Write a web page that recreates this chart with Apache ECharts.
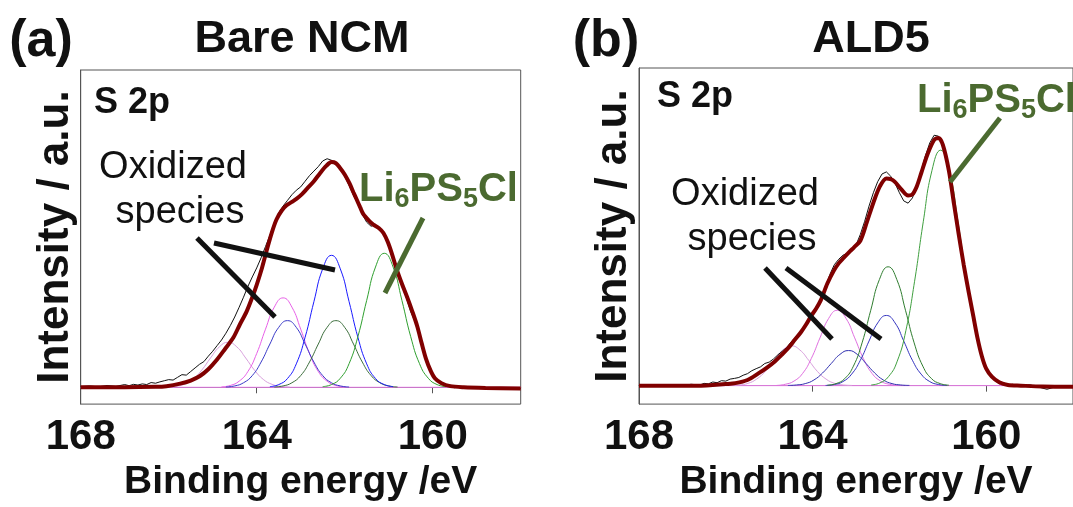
<!DOCTYPE html>
<html lang="en">
<head>
    <meta charset="UTF-8">
    <title>S 2p XPS</title>
    <script src="https://cdn.jsdelivr.net/npm/echarts@6/dist/echarts.min.js"></script>
    <style>
        html, body { margin: 0; padding: 0; background: #fff; }
    </style>
</head>
<body>
    <div id="main" style="width: 1073px;height:507px;"></div>

    <script type="text/javascript">
        // tick labels on binding energy axis
        var tickValues = [168, 164, 160];

        // ---- (a) Bare NCM : [binding energy, intensity] ----
        var rawA = [[168.0,0.3],[167.8,0.6],[167.6,0.2],[167.4,0.8],[167.2,0.4],[167.0,1.2],[166.9,0.7],[166.8,1.3],[166.7,1.0],[166.6,1.5],[166.5,1.2],[166.4,2.1],[166.3,1.8],[166.2,2.4],[166.1,2.9],[166.0,3.4],[165.9,3.2],[165.8,4.4],[165.7,5.6],[165.6,5.4],[165.5,7.0],[165.4,8.6],[165.3,10.2],[165.2,11.4],[165.1,13.8],[165.0,16.0],[164.9,18.5],[164.8,21.0],[164.7,24.0],[164.6,27.4],[164.5,31.2],[164.4,35.5],[164.3,40.0],[164.2,44.8],[164.1,49.0],[164.0,53.0],[163.9,57.5],[163.8,62.5],[163.7,67.5],[163.6,73.0],[163.5,77.5],[163.4,80.5],[163.3,83.0],[163.2,85.5],[163.1,87.5],[163.0,89.0],[162.9,91.5],[162.8,94.0],[162.7,96.0],[162.6,98.0],[162.5,100.5],[162.4,101.5],[162.3,100.8],[162.2,99.8],[162.1,97.2],[162.0,93.8],[161.9,89.6],[161.8,85.2],[161.7,81.4],[161.6,76.8],[161.5,73.3],[161.4,71.5],[161.3,72.3],[161.2,70.2],[161.1,68.6],[161.0,63.8],[160.9,57.9],[160.8,51.8],[160.7,45.6],[160.6,39.8],[160.5,33.5],[160.4,29.2],[160.3,23.4],[160.2,15.8],[160.1,9.7],[160.0,6.1],[159.9,3.0],[159.8,1.6],[159.7,0.4],[159.6,0.9],[159.5,-0.2],[159.4,0.3],[159.2,-0.4],[159.0,0.2],[158.8,-0.5],[158.6,-0.2],[158.4,-0.8],[158.2,-0.4],[158.0,-0.6]];

        var envA = [[168.0,0],[167.0,0],[166.3,0.2],[166.05,0.5],[165.74,1.6],[165.5,3.0],[165.29,5.0],[165.1,8.0],[164.91,12.1],[164.72,17.0],[164.53,22.1],[164.38,28.0],[164.23,33.6],[164.1,40.0],[164.0,45.5],[163.88,53.0],[163.77,61.0],[163.66,68.5],[163.55,74.5],[163.43,78.5],[163.32,80.8],[163.2,82.3],[163.09,83.8],[162.97,85.8],[162.86,88.1],[162.7,91.5],[162.56,95.1],[162.42,98.3],[162.3,100.0],[162.2,99.5],[162.11,97.5],[162.0,94.5],[161.89,90.5],[161.8,86.5],[161.73,83.5],[161.65,80.0],[161.58,77.0],[161.45,74.0],[161.35,72.2],[161.22,70.6],[161.12,68.5],[161.02,64.5],[160.93,59.5],[160.82,52.5],[160.7,46.0],[160.58,40.0],[160.46,33.5],[160.35,27.0],[160.25,19.5],[160.15,12.5],[160.05,7.5],[159.95,4.0],[159.8,1.8],[159.6,0.5],[159.3,0],[158.8,-0.3],[158.0,-0.5]];

        var blueTallA = [[163.7,0.3],[163.5,1.2],[163.3,3.9],[163.1,10.4],[162.9,22.2],[162.7,38.0],[162.5,52.6],[162.3,58.6],[162.1,52.6],[161.9,38.0],[161.7,22.2],[161.5,10.4],[161.3,3.9],[161.1,1.2],[160.9,0.3]];
        var greenTallA = [[162.5,0.3],[162.3,1.2],[162.1,4.0],[161.9,10.5],[161.7,22.5],[161.5,38.6],[161.3,53.4],[161.1,59.5],[160.9,53.4],[160.7,38.6],[160.5,22.5],[160.3,10.5],[160.1,4.0],[159.9,1.2],[159.7,0.3]];
        var greenMedA = [[163.6,0.15],[163.4,0.6],[163.2,2.0],[163.0,5.2],[162.8,11.2],[162.6,19.2],[162.4,26.6],[162.2,29.6],[162.0,26.6],[161.8,19.2],[161.6,11.2],[161.4,5.2],[161.2,2.0],[161.0,0.6],[160.8,0.15]];
        var magentaA = [[164.8,0.2],[164.6,0.8],[164.4,2.7],[164.2,7.0],[164.0,15.0],[163.8,25.8],[163.6,35.6],[163.4,39.7],[163.2,35.6],[163.0,25.8],[162.8,15.0],[162.6,7.0],[162.4,2.7],[162.2,0.8],[162.0,0.2]];
        var blueMedA = [[164.7,0.15],[164.5,0.6],[164.3,2.0],[164.1,5.2],[163.9,11.2],[163.7,19.2],[163.5,26.6],[163.3,29.6],[163.1,26.6],[162.9,19.2],[162.7,11.2],[162.5,5.2],[162.3,2.0],[162.1,0.6],[161.9,0.15]];
        var plumA = [[166.05,0.1],[165.85,0.4],[165.65,1.3],[165.45,3.5],[165.25,7.6],[165.05,13.0],[164.85,17.9],[164.65,20.0],[164.45,17.9],[164.25,13.0],[164.05,7.6],[163.85,3.5],[163.65,1.3],[163.45,0.4],[163.25,0.1]];

        // ---- (b) ALD5 ----
        var rawB = [[168.0,0.2],[167.8,-0.2],[167.6,0.4],[167.4,0.0],[167.2,0.5],[167.0,0.1],[166.8,0.6],[166.6,0.3],[166.5,1.0],[166.4,0.8],[166.3,1.6],[166.2,1.3],[166.1,2.2],[166.0,2.0],[165.9,2.9],[165.8,3.2],[165.7,3.6],[165.6,4.6],[165.5,5.3],[165.4,6.6],[165.3,7.5],[165.2,8.3],[165.1,9.8],[165.0,10.4],[164.9,11.8],[164.8,13.6],[164.7,15.2],[164.6,16.8],[164.5,19.2],[164.4,21.2],[164.3,23.5],[164.2,25.6],[164.1,28.2],[164.0,31.8],[163.9,34.5],[163.8,38.6],[163.7,43.8],[163.6,49.2],[163.5,53.4],[163.4,55.8],[163.3,57.6],[163.2,58.5],[163.1,59.6],[163.0,62.1],[162.9,66.8],[162.8,72.6],[162.7,79.3],[162.6,85.2],[162.5,90.1],[162.4,93.5],[162.3,94.4],[162.2,92.5],[162.1,89.4],[162.0,85.2],[161.9,81.6],[161.8,80.6],[161.7,82.9],[161.6,88.1],[161.5,94.8],[161.4,101.6],[161.3,107.2],[161.2,110.6],[161.1,110.2],[161.0,106.4],[160.9,97.8],[160.8,86.6],[160.7,74.5],[160.6,62.3],[160.5,51.4],[160.4,40.8],[160.3,30.5],[160.2,21.3],[160.1,13.6],[160.0,7.9],[159.9,4.2],[159.8,2.3],[159.7,0.8],[159.6,1.4],[159.5,0.1],[159.4,0.6],[159.2,-0.2],[159.0,0.4],[158.8,-0.6],[158.6,-1.6],[158.4,-0.5],[158.2,-0.8],[158.0,-0.3]];

        var envB = [[168.0,0],[167.0,0],[166.61,0],[166.3,0.3],[166.0,0.7],[165.78,1.1],[165.5,2.5],[165.25,5.4],[165.05,8.0],[164.87,10.7],[164.72,13.5],[164.57,16.4],[164.42,20.0],[164.27,23.6],[164.15,27.0],[164.04,30.6],[163.92,34.0],[163.81,37.8],[163.66,45.1],[163.51,50.8],[163.4,54.0],[163.28,56.5],[163.13,59.5],[163.05,61.0],[162.9,64.0],[162.75,72.2],[162.6,80.8],[162.45,88.0],[162.3,91.5],[162.2,91.2],[162.11,90.1],[161.95,86.6],[161.8,84.0],[161.7,84.5],[161.6,88.0],[161.5,93.7],[161.35,102.3],[161.2,108.5],[161.1,109.4],[161.0,106.5],[160.86,95.0],[160.74,80.0],[160.63,66.5],[160.52,53.6],[160.4,41.0],[160.3,31.0],[160.2,21.0],[160.1,13.0],[160.0,7.5],[159.87,4.0],[159.7,1.5],[159.5,0.3],[159.2,0],[158.7,-0.4],[158.0,-0.5]];

        var greenTallB = [[162.65,0.3],[162.45,1.2],[162.25,4.0],[162.05,10.8],[161.85,24.4],[161.65,46.1],[161.45,72.4],[161.25,95.0],[161.05,104.0],[160.85,95.0],[160.65,72.4],[160.45,46.1],[160.25,24.4],[160.05,10.8],[159.85,4.0],[159.65,1.2],[159.45,0.3]];
        var greenMedB = [[163.66,0.2],[163.46,0.9],[163.26,3.1],[163.06,8.6],[162.86,18.9],[162.66,33.3],[162.46,46.9],[162.26,52.5],[162.06,46.9],[161.86,33.3],[161.66,18.9],[161.46,8.6],[161.26,3.1],[161.06,0.9],[160.86,0.2]];
        var blueMedB = [[163.7,0.1],[163.5,0.5],[163.3,1.8],[163.1,5.1],[162.9,11.2],[162.7,19.7],[162.5,27.7],[162.3,31.0],[162.1,27.7],[161.9,19.7],[161.7,11.2],[161.5,5.1],[161.3,1.8],[161.1,0.5],[160.9,0.1]];
        var magentaB = [[164.83,0.1],[164.63,0.6],[164.43,2.0],[164.23,5.4],[164.03,12.0],[163.83,21.1],[163.63,29.7],[163.43,33.3],[163.23,29.7],[163.03,21.1],[162.83,12.0],[162.63,5.4],[162.43,2.0],[162.23,0.6],[162.03,0.1]];
        var blueLowB = [[164.57,0.1],[164.37,0.3],[164.17,0.9],[163.97,2.5],[163.77,5.6],[163.57,9.8],[163.37,13.8],[163.17,15.5],[162.97,13.8],[162.77,9.8],[162.57,5.6],[162.37,2.5],[162.17,0.9],[161.97,0.3],[161.77,0.1]];
        var plumB = [[165.89,0.1],[165.69,0.3],[165.49,1.0],[165.29,2.9],[165.09,6.3],[164.89,11.2],[164.69,15.7],[164.49,17.6],[164.29,15.7],[164.09,11.2],[163.89,6.3],[163.69,2.9],[163.49,1.0],[163.29,0.3],[163.09,0.1]];

        var baseLine = [[168, 0], [158, 0]];

        var FONT = 'Arial, "Liberation Sans", sans-serif';
        var GREEN = '#4b6a30';

        var myChart = echarts.init(document.getElementById('main'));

        function xAx(i) {
            return {
                gridIndex: i, type: 'value', min: 158, max: 168, inverse: true,
                axisLine: { show: true, lineStyle: { color: '#555', width: 1 } },
                axisTick: { show: true, customValues: tickValues, length: 6, lineStyle: { color: '#555' } },
                axisLabel: { customValues: tickValues, fontSize: 42, fontWeight: 'bold', color: '#111', margin: 12, fontFamily: FONT },
                splitLine: { show: false },
                name: 'Binding energy /eV', nameLocation: 'middle', nameGap: 54,
                nameTextStyle: { fontSize: 39, fontWeight: 'bold', color: '#111', fontFamily: FONT }
            };
        }
        function yAx(i, lo, hi) {
            return {
                gridIndex: i, type: 'value', min: lo, max: hi,
                axisLine: { show: true, lineStyle: { color: '#555', width: 1 } },
                axisTick: { show: false }, axisLabel: { show: false }, splitLine: { show: false },
                name: 'Intensity / a.u.', nameLocation: 'middle', nameRotate: 90, nameGap: 3,
                nameTextStyle: { fontSize: 44, fontWeight: 'bold', color: '#111', fontFamily: FONT }
            };
        }
        function ln(i, data, color, width, smooth, z) {
            return {
                type: 'line', xAxisIndex: i, yAxisIndex: i, data: data,
                showSymbol: false, symbol: 'none', smooth: smooth,
                lineStyle: { color: color, width: width }, silent: true, z: z
            };
        }
        function txt(x, y, s, size, weight, color, align) {
            return {
                type: 'text', x: x, y: y, silent: true,
                style: {
                    text: s, font: weight + ' ' + size + 'px ' + FONT, fill: color,
                    align: align, textAlign: align, verticalAlign: 'middle', textVerticalAlign: 'middle'
                }
            };
        }
        function seg(x1, y1, x2, y2, color) {
            return { type: 'line', silent: true, shape: { x1: x1, y1: y1, x2: x2, y2: y2 },
                style: { stroke: color, lineWidth: 5 }, z: 100 };
        }
        function formula(x, y) {
            return {
                type: 'text', x: x, y: y, silent: true,
                style: {
                    text: '{m|Li}{s|6}{m|PS}{s|5}{m|Cl}', align: 'left', verticalAlign: 'middle',
                    rich: {
                        m: { fontSize: 40, fontWeight: 'bold', fontFamily: FONT, fill: GREEN, lineHeight: 46 },
                        s: { fontSize: 27, fontWeight: 'bold', fontFamily: FONT, fill: GREEN, lineHeight: 25, verticalAlign: 'bottom' }
                    }
                }
            };
        }

        var option = {
            animation: false,
            backgroundColor: '#fff',
            grid: [
                { left: 80.7, top: 70, width: 440, height: 345.7, show: true, borderColor: '#555', borderWidth: 1 },
                { left: 639, top: 68, width: 440, height: 346, show: true, borderColor: '#555', borderWidth: 1 }
            ],
            xAxis: [xAx(0), xAx(1)],
            yAxis: [yAx(0, -7.47, 140.9), yAx(1, -8.15, 140.3)],
            series: [
                ln(0, baseLine, '#ee82ee', 1, false, 1),
                ln(0, plumA, '#d9a0dd', 1, true, 2),
                ln(0, magentaA, '#e860e8', 1, true, 2),
                ln(0, blueMedA, '#3a3ac8', 1, true, 2),
                ln(0, greenMedA, '#3c6e3c', 1, true, 2),
                ln(0, blueTallA, '#1a1aff', 1, true, 2),
                ln(0, greenTallA, '#2fa02f', 1, true, 2),
                ln(0, rawA, '#111', 1, false, 3),
                ln(0, envA, '#800000', 4, 0.3, 4),

                ln(1, baseLine, '#ee82ee', 1, false, 1),
                ln(1, plumB, '#d9a0dd', 1, true, 2),
                ln(1, magentaB, '#e070e0', 1, true, 2),
                ln(1, blueLowB, '#3030b0', 1, true, 2),
                ln(1, blueMedB, '#3434c0', 1, true, 2),
                ln(1, greenMedB, '#2f7d2f', 1, true, 2),
                ln(1, greenTallB, '#3f9f3f', 1, true, 2),
                ln(1, rawB, '#111', 1, false, 3),
                ln(1, envB, '#800000', 4, 0.3, 4)
            ],
            graphic: [
                txt(41, 42, '(a)', 52, 'bold', '#111', 'center'),
                txt(302, 40, 'Bare NCM', 45, 'bold', '#111', 'center'),
                txt(606, 42, '(b)', 52, 'bold', '#111', 'center'),
                txt(871, 40, 'ALD5', 45, 'bold', '#111', 'center'),
                txt(94, 103, 'S 2p', 36, 'bold', '#111', 'left'),
                txt(657, 97, 'S 2p', 36, 'bold', '#111', 'left'),
                txt(173, 168, 'Oxidized', 38, 'normal', '#111', 'center'),
                txt(180, 213, 'species', 38, 'normal', '#111', 'center'),
                txt(745, 195, 'Oxidized', 38, 'normal', '#111', 'center'),
                txt(752, 240, 'species', 38, 'normal', '#111', 'center'),
                formula(359, 190),
                formula(917, 101),
                seg(214, 243, 335, 270, '#111'),
                seg(197, 238, 275, 317, '#111'),
                seg(765, 268, 832, 339, '#111'),
                seg(786, 268, 881, 339, '#111'),
                seg(423, 218, 385, 293, GREEN),
                seg(1000, 118, 950, 182, GREEN)
            ]
        };

        myChart.setOption(option);
    </script>
</body>
</html>
